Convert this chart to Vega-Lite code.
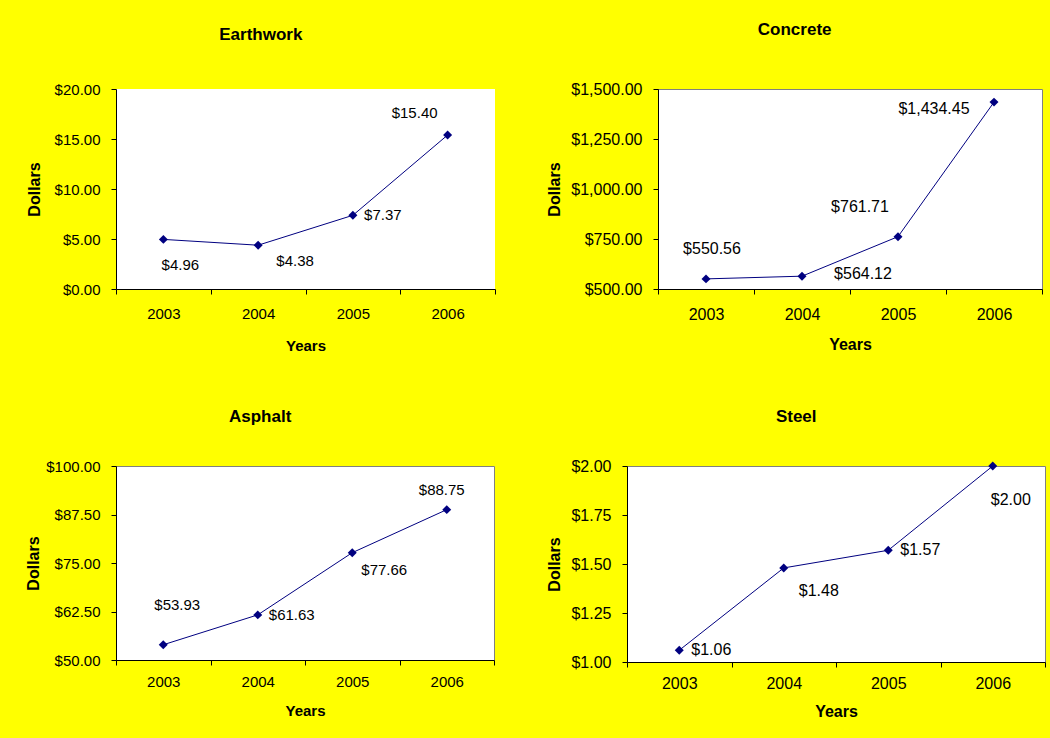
{
  "$schema": "https://vega.github.io/schema/vega-lite/v6.json",
  "background": "#FFFF00",
  "padding": {"left": 25, "top": 20, "right": 5, "bottom": 18},
  "data": {
    "values": [
      {"panel": "Earthwork", "year": 2003, "value": 4.96},
      {"panel": "Earthwork", "year": 2004, "value": 4.38},
      {"panel": "Earthwork", "year": 2005, "value": 7.37},
      {"panel": "Earthwork", "year": 2006, "value": 15.40},
      {"panel": "Concrete", "year": 2003, "value": 550.56},
      {"panel": "Concrete", "year": 2004, "value": 564.12},
      {"panel": "Concrete", "year": 2005, "value": 761.71},
      {"panel": "Concrete", "year": 2006, "value": 1434.45},
      {"panel": "Asphalt", "year": 2003, "value": 53.93},
      {"panel": "Asphalt", "year": 2004, "value": 61.63},
      {"panel": "Asphalt", "year": 2005, "value": 77.66},
      {"panel": "Asphalt", "year": 2006, "value": 88.75},
      {"panel": "Steel", "year": 2003, "value": 1.06},
      {"panel": "Steel", "year": 2004, "value": 1.48},
      {"panel": "Steel", "year": 2005, "value": 1.57},
      {"panel": "Steel", "year": 2006, "value": 2.00}
    ]
  },
  "columns": 2,
  "align": "none",
  "bounds": "full",
  "spacing": {"row": 54, "column": 50},
  "concat": [
    {
      "title": {"text": "Earthwork", "frame": "bounds", "anchor": "middle", "fontSize": 17, "fontWeight": "bold", "offset": 38},
      "width": 379, "height": 200,
      "view": {"fill": "white", "stroke": null},
      "transform": [{"filter": "datum.panel === 'Earthwork'"}],
      "encoding": {
        "x": {"field": "year", "type": "ordinal", "bandPosition": 0.5,
              "scale": {"type": "band", "paddingInner": 0, "paddingOuter": 0},
              "axis": {"title": "Years", "labelAngle": 0, "tickBand": "extent", "labelFontSize": 15, "titleFontSize": 15, "labelPadding": 12, "titlePadding": 17}},
        "y": {"field": "value", "type": "quantitative",
              "scale": {"domain": [0, 20], "nice": false, "zero": false},
              "axis": {"title": "Dollars", "values": [0, 5, 10, 15, 20], "format": "$,.2f", "labelFontSize": 15, "titleFontSize": 16, "labelPadding": 11, "titlePadding": 12}}
      },
      "layer": [
        {"mark": {"type": "line", "color": "#000080", "strokeWidth": 1}},
        {"mark": {"type": "point", "shape": "diamond", "filled": true, "size": 80, "color": "#000080", "opacity": 1}},
        {"transform": [{"filter": "datum.year === 2003"}], "mark": {"type": "text", "dx": 17, "dy": 26, "fontSize": 15}, "encoding": {"text": {"field": "value", "type": "quantitative", "format": "$,.2f"}}},
        {"transform": [{"filter": "datum.year === 2004"}], "mark": {"type": "text", "dx": 37, "dy": 16, "fontSize": 15}, "encoding": {"text": {"field": "value", "type": "quantitative", "format": "$,.2f"}}},
        {"transform": [{"filter": "datum.year === 2005"}], "mark": {"type": "text", "dx": 30, "dy": 0, "fontSize": 15}, "encoding": {"text": {"field": "value", "type": "quantitative", "format": "$,.2f"}}},
        {"transform": [{"filter": "datum.year === 2006"}], "mark": {"type": "text", "dx": -33, "dy": -22, "fontSize": 15}, "encoding": {"text": {"field": "value", "type": "quantitative", "format": "$,.2f"}}}
      ]
    },
    {
      "title": {"text": "Concrete", "frame": "bounds", "anchor": "middle", "fontSize": 17, "fontWeight": "bold", "offset": 42},
      "width": 384, "height": 200,
      "view": {"fill": "white", "stroke": "#808080"},
      "transform": [{"filter": "datum.panel === 'Concrete'"}],
      "encoding": {
        "x": {"field": "year", "type": "ordinal", "bandPosition": 0.5,
              "scale": {"type": "band", "paddingInner": 0, "paddingOuter": 0},
              "axis": {"title": "Years", "labelAngle": 0, "tickBand": "extent", "labelFontSize": 16, "titleFontSize": 16, "labelPadding": 12, "titlePadding": 14}},
        "y": {"field": "value", "type": "quantitative",
              "scale": {"domain": [500, 1500], "nice": false, "zero": false},
              "axis": {"title": "Dollars", "values": [500, 750, 1000, 1250, 1500], "format": "$,.2f", "labelFontSize": 16, "titleFontSize": 16, "labelPadding": 11, "titlePadding": 8}}
      },
      "layer": [
        {"mark": {"type": "line", "color": "#000080", "strokeWidth": 1}},
        {"mark": {"type": "point", "shape": "diamond", "filled": true, "size": 80, "color": "#000080", "opacity": 1}},
        {"transform": [{"filter": "datum.year === 2003"}], "mark": {"type": "text", "dx": 6, "dy": -30, "fontSize": 16}, "encoding": {"text": {"field": "value", "type": "quantitative", "format": "$,.2f"}}},
        {"transform": [{"filter": "datum.year === 2004"}], "mark": {"type": "text", "dx": 61, "dy": -2, "fontSize": 16}, "encoding": {"text": {"field": "value", "type": "quantitative", "format": "$,.2f"}}},
        {"transform": [{"filter": "datum.year === 2005"}], "mark": {"type": "text", "dx": -38, "dy": -30, "fontSize": 16}, "encoding": {"text": {"field": "value", "type": "quantitative", "format": "$,.2f"}}},
        {"transform": [{"filter": "datum.year === 2006"}], "mark": {"type": "text", "dx": -60, "dy": 7, "fontSize": 16}, "encoding": {"text": {"field": "value", "type": "quantitative", "format": "$,.2f"}}}
      ]
    },
    {
      "title": {"text": "Asphalt", "frame": "bounds", "anchor": "middle", "fontSize": 17, "fontWeight": "bold", "offset": 33},
      "width": 378, "height": 194,
      "view": {"fill": "white", "stroke": "#808080"},
      "transform": [{"filter": "datum.panel === 'Asphalt'"}],
      "encoding": {
        "x": {"field": "year", "type": "ordinal", "bandPosition": 0.5,
              "scale": {"type": "band", "paddingInner": 0, "paddingOuter": 0},
              "axis": {"title": "Years", "labelAngle": 0, "tickBand": "extent", "labelFontSize": 15, "titleFontSize": 15, "labelPadding": 9.5, "titlePadding": 14}},
        "y": {"field": "value", "type": "quantitative",
              "scale": {"domain": [50, 100], "nice": false, "zero": false},
              "axis": {"title": "Dollars", "values": [50, 62.5, 75, 87.5, 100], "format": "$,.2f", "labelFontSize": 15, "titleFontSize": 16, "labelPadding": 11, "titlePadding": 4}}
      },
      "layer": [
        {"mark": {"type": "line", "color": "#000080", "strokeWidth": 1}},
        {"mark": {"type": "point", "shape": "diamond", "filled": true, "size": 80, "color": "#000080", "opacity": 1}},
        {"transform": [{"filter": "datum.year === 2003"}], "mark": {"type": "text", "dx": 14, "dy": -40, "fontSize": 15}, "encoding": {"text": {"field": "value", "type": "quantitative", "format": "$,.2f"}}},
        {"transform": [{"filter": "datum.year === 2004"}], "mark": {"type": "text", "dx": 34, "dy": 0, "fontSize": 15}, "encoding": {"text": {"field": "value", "type": "quantitative", "format": "$,.2f"}}},
        {"transform": [{"filter": "datum.year === 2005"}], "mark": {"type": "text", "dx": 32, "dy": 17, "fontSize": 15}, "encoding": {"text": {"field": "value", "type": "quantitative", "format": "$,.2f"}}},
        {"transform": [{"filter": "datum.year === 2006"}], "mark": {"type": "text", "dx": -5, "dy": -20, "fontSize": 15}, "encoding": {"text": {"field": "value", "type": "quantitative", "format": "$,.2f"}}}
      ]
    },
    {
      "title": {"text": "Steel", "frame": "bounds", "anchor": "middle", "fontSize": 17, "fontWeight": "bold", "offset": 32},
      "width": 418, "height": 196,
      "view": {"fill": "white", "stroke": "#808080"},
      "transform": [{"filter": "datum.panel === 'Steel'"}],
      "encoding": {
        "x": {"field": "year", "type": "ordinal", "bandPosition": 0.5,
              "scale": {"type": "band", "paddingInner": 0, "paddingOuter": 0},
              "axis": {"title": "Years", "labelAngle": 0, "tickBand": "extent", "labelFontSize": 16, "titleFontSize": 16, "labelPadding": 8, "titlePadding": 12}},
        "y": {"field": "value", "type": "quantitative",
              "scale": {"domain": [1, 2], "nice": false, "zero": false},
              "axis": {"title": "Dollars", "values": [1, 1.25, 1.5, 1.75, 2], "format": "$,.2f", "labelFontSize": 16, "titleFontSize": 16, "labelPadding": 11, "titlePadding": 8}}
      },
      "layer": [
        {"mark": {"type": "line", "color": "#000080", "strokeWidth": 1}},
        {"mark": {"type": "point", "shape": "diamond", "filled": true, "size": 80, "color": "#000080", "opacity": 1}},
        {"transform": [{"filter": "datum.year === 2003"}], "mark": {"type": "text", "dx": 32, "dy": 0, "fontSize": 16}, "encoding": {"text": {"field": "value", "type": "quantitative", "format": "$,.2f"}}},
        {"transform": [{"filter": "datum.year === 2004"}], "mark": {"type": "text", "dx": 35, "dy": 23, "fontSize": 16}, "encoding": {"text": {"field": "value", "type": "quantitative", "format": "$,.2f"}}},
        {"transform": [{"filter": "datum.year === 2005"}], "mark": {"type": "text", "dx": 32, "dy": 0, "fontSize": 16}, "encoding": {"text": {"field": "value", "type": "quantitative", "format": "$,.2f"}}},
        {"transform": [{"filter": "datum.year === 2006"}], "mark": {"type": "text", "dx": 18, "dy": 34, "fontSize": 16}, "encoding": {"text": {"field": "value", "type": "quantitative", "format": "$,.2f"}}}
      ]
    }
  ],
  "config": {
    "font": "Liberation Sans",
    "axis": {"domainColor": "black", "tickColor": "black", "tickSize": 5, "grid": false, "labelColor": "black", "titleColor": "black", "titleFontWeight": "bold", "domainWidth": 1, "tickWidth": 1},
    "title": {"color": "black"},
    "text": {"color": "black"}
  }
}
